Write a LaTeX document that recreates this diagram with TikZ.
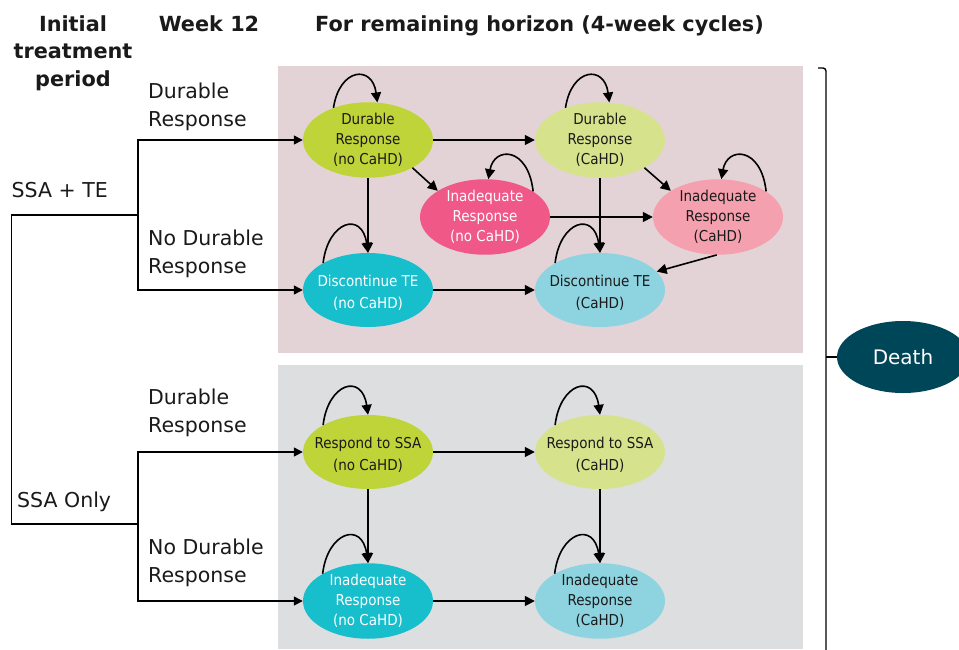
\documentclass[tikz,border=0pt]{standalone}
\usepackage{fontspec}
\setmainfont{DejaVu Sans}
\newfontfamily\nodefont[FakeStretch=0.9]{DejaVu Sans}
\usetikzlibrary{shapes.geometric,arrows.meta}
\definecolor{cyg}{HTML}{BFD438}
\definecolor{clyg}{HTML}{D6E38C}
\definecolor{cpk}{HTML}{F05887}
\definecolor{clpk}{HTML}{F4A0AE}
\definecolor{ccy}{HTML}{17BECC}
\definecolor{clcy}{HTML}{8ED4E0}
\definecolor{panelpink}{HTML}{E3D3D7}
\definecolor{panelgrey}{HTML}{DDDEE0}
\definecolor{cdeath}{HTML}{004659}
\definecolor{ctext}{HTML}{1A1A1A}
\newcommand{\upstrut}{\rule{0pt}{17pt}}
\begin{document}
\begin{tikzpicture}[x=1pt,y=-1pt,
  state/.style={ellipse, minimum width=130pt, minimum height=74pt, inner xsep=-12pt, inner ysep=0pt,
    align=center, text=ctext, font=\nodefont\fontsize{15}{20}\selectfont},
  twoline/.style={font=\nodefont\fontsize{15}{22.5}\selectfont},
  arr/.style={-{Triangle[length=10pt,width=10pt]}, line width=1.6pt},
  arrt/.style={-{Triangle[length=9pt,width=9pt]}, line width=1.4pt},
  tree/.style={line width=1.4pt},
  lbl/.style={font=\fontsize{20.5}{28}\selectfont, align=left, inner sep=0pt, text=ctext},
  hdr/.style={font=\bfseries\fontsize{20.8}{27.5}\selectfont, align=center, inner sep=0pt, text=ctext}]
\useasboundingbox (0,0) rectangle (959,649);
\fill[white] (0,0) rectangle (959,649);
% panels
\fill[panelpink] (278,66) rectangle (803,353);
\fill[panelgrey] (278,365) rectangle (803,649);
% headers
\node[hdr, anchor=north] (h1) at (73,15.2) {Initial\\treatment\\period};
\node[hdr, anchor=base] (h2) at (209,31) {Week 12};
\node[hdr, anchor=base west] (h3) at (315,31) {For remaining horizon (4-week cycles)};
% labels
\node[lbl, anchor=north west] (l1) at (148,82.4) {Durable\\Response};
\node[lbl, anchor=north west] (l2) at (148,229.4) {No Durable\\Response};
\node[lbl, anchor=north west] (l3) at (148,388.4) {Durable\\Response};
\node[lbl, anchor=north west] (l4) at (148,538.4) {No Durable\\Response};
\node[lbl, anchor=base west] (s1) at (11.5,197) {SSA + TE};
\node[lbl, anchor=base west] (s2) at (17,507) {SSA Only};
% top states
\node[state, fill=cyg] (DRn) at (368,140) {Durable\\Response\\(no CaHD)};
\node[state, fill=clyg] (DRc) at (600,140) {Durable\\Response\\(CaHD)};
\node[state, fill=cpk, text=white] (IRn) at (485,217) {Inadequate\\Response\\(no CaHD)};
\node[state, fill=clpk] (IRc) at (718,217) {Inadequate\\Response\\(CaHD)};
\node[state, twoline, fill=ccy, text=white] (DTn) at (368,290) {\upstrut Discontinue TE\\(no CaHD)};
\node[state, twoline, fill=clcy] (DTc) at (600,290) {\upstrut Discontinue TE\\(CaHD)};
% bottom states
\node[state, twoline, fill=cyg] (RSn) at (368,452) {\upstrut Respond to SSA\\(no CaHD)};
\node[state, twoline, fill=clyg] (RSc) at (600,452) {\upstrut Respond to SSA\\(CaHD)};
\node[state, fill=ccy, text=white] (IBn) at (368,601) {Inadequate\\Response\\(no CaHD)};
\node[state, fill=clcy] (IBc) at (600,601) {Inadequate\\Response\\(CaHD)};
% death
\node[ellipse, fill=cdeath, minimum width=132pt, minimum height=72pt, inner sep=0pt,
  text=white, font=\fontsize{20}{24}\selectfont] (Death) at (903,357) {Death};
% top transitions
\draw[arr] (DRn.east) -- (DRc.west);
\draw[arr] (DRn.-32) -- (IRn.151);
\draw[arr] (DRc.-32) -- (IRc.151);
\draw[arr] (DRn.south) -- (DTn.north);
\draw[arr] (DRc.south) -- (DTc.north);
\draw[arr] (IRn.east) -- (IRc.west);
\draw[arr] (IRc.-92) -- (DTc.18);
\draw[arr] (DTn.east) -- (DTc.west);
% top self loops
\draw[arr] (DRn.137) .. controls +(6,-40) and +(-5,-38) .. (DRn.76);
\draw[arr] (DRc.137) .. controls +(6,-40) and +(-5,-38) .. (DRc.76);
\draw[arr] (IRn.28) .. controls +(-5,-45) and +(6,-33) .. (IRn.85);
\draw[arr] (IRc.28) .. controls +(-5,-45) and +(6,-33) .. (IRc.85);
\draw[arr] (DTn.149) .. controls +(5,-42) and +(-6,-42) .. (DTn.north);
\draw[arr] (DTc.149) .. controls +(5,-42) and +(-6,-42) .. (DTc.north);
% bottom transitions
\draw[arr] (RSn.east) -- (RSc.west);
\draw[arr] (RSn.south) -- (IBn.north);
\draw[arr] (RSc.south) -- (IBc.north);
\draw[arr] (IBn.east) -- (IBc.west);
% bottom self loops
\draw[arr] (RSn.149) .. controls +(5,-42) and +(-6,-42) .. (RSn.north);
\draw[arr] (RSc.149) .. controls +(5,-42) and +(-6,-42) .. (RSc.north);
\draw[arr] (IBn.149) .. controls +(5,-42) and +(-6,-42) .. (IBn.north);
\draw[arr] (IBc.149) .. controls +(5,-42) and +(-6,-42) .. (IBc.north);
% tree
\coordinate (T1) at (138,215);
\coordinate (T2) at (138,524);
\coordinate (R1) at (11.5,215);
\coordinate (R2) at (11.5,524);
\draw[tree] (T1) -- (R1) -- (R2) -- (T2);
\draw[arrt] (T1) |- (DRn.west);
\draw[arrt] (T1) |- (DTn.west);
\draw[arrt] (T2) |- (RSn.west);
\draw[arrt] (T2) |- (IBn.west);
% bracket to death
\coordinate (B1) at (818,68);
\coordinate (B2) at (826,68);
\coordinate (B3) at (826,652);
\coordinate (BT) at (826,357);
\draw[tree, rounded corners=3pt] (B1) -- (B2) -- (B3);
\draw[tree] (BT) -- (Death.west);
\end{tikzpicture}
\end{document}
